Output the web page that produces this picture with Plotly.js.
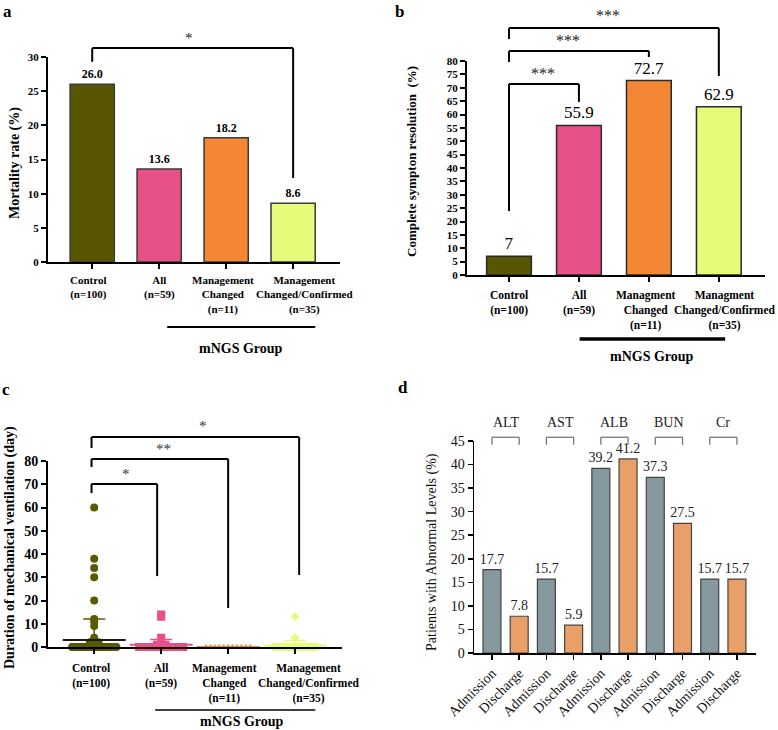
<!DOCTYPE html>
<html><head><meta charset="utf-8">
<script src="https://cdn.plot.ly/plotly-3.0.1.min.js"></script>
<style>html,body{margin:0;padding:0;background:#fff}#chart{width:778px;height:730px}</style>
</head><body><div id="chart"></div>
<script>
// ---------------- data ----------------
const groupLabelsA = ['Control<br>(n=100)', 'All<br>(n=59)', 'Management<br>Changed<br>(n=11)', 'Management<br>Changed/Confirmed<br>(n=35)'];
const groupLabelsB = ['Control<br>(n=100)', 'All<br>(n=59)', 'Managment<br>Changed<br>(n=11)', 'Managment<br>Changed/Confirmed<br>(n=35)'];
const mortality = [26.0, 13.6, 18.2, 8.6];
const resolution = [7, 55.9, 72.7, 62.9];
// mechanical ventilation (days): distinct values and number of patients at each
const ventCtrlDays = [60, 38, 34, 30, 20, 12, 11, 9, 4, 3, 2, 1, 0];
const ventCtrlCount = [1, 1, 1, 1, 1, 1, 1, 1, 1, 1, 2, 2, 86];
const ventAllDays = [14, 13, 4, 2, 1, 0];
const ventAllCount = [1, 1, 1, 1, 2, 53];
const ventMcDays = [0];
const ventMcCount = [11];
const ventMccDays = [13, 4, 0];
const ventMccCount = [1, 1, 33];
const ventMean = [3.0, 1.0, 0, 0.6];
const ventSd = [9.0, 2.2, 0, 2.2];
const labTests = ['ALT', 'AST', 'ALB', 'BUN', 'Cr'];
const timeLabels = ['Admission', 'Discharge'];
const admission = [17.7, 15.7, 39.2, 37.3, 15.7];
const discharge = [7.8, 5.9, 41.2, 27.5, 15.7];

// ---------------- styles ----------------
const W = 778, H = 730;
const serif = '"Liberation Serif", "Times New Roman", serif';
const groupColors = ['#585600', '#e8508a', '#f48734', '#e4fc7a'];
const markerColors = ['#5c5a00', '#e8508a', '#f48734', '#e4fc7a'];
const admColor = '#85989e', disColor = '#e8a068';
const F = (size, bold, color) => ({family: serif, size: size, color: color || '#000', weight: bold ? 'bold' : 'normal'});

function axis(o) {
  return Object.assign({showgrid: false, zeroline: false, showline: true, linecolor: '#000', linewidth: 2,
    ticks: 'outside', ticklen: 5, tickwidth: 2, tickcolor: '#000', fixedrange: true, tickangle: 0}, o);
}

// ---------------- traces ----------------
const traces = [];
// a
traces.push({type: 'bar', x: [0, 1, 2, 3], y: mortality, xaxis: 'x', yaxis: 'y', width: 0.66,
  marker: {color: groupColors, line: {color: '#3a3a3a', width: 1.5}},
  text: mortality.map(v => v.toFixed(1)), textposition: 'outside', cliponaxis: false, constraintext: 'none',
  textfont: F(12, true), hoverinfo: 'skip'});
// b
traces.push({type: 'bar', x: [0, 1, 2, 3], y: resolution, xaxis: 'x2', yaxis: 'y2', width: 0.64,
  marker: {color: groupColors, line: {color: '#2a2a2a', width: 1.5}},
  text: resolution.map(String), textposition: 'outside', cliponaxis: false, constraintext: 'none',
  textfont: F(17, false), hoverinfo: 'skip'});
// c : dot plots
function swarm(center, days, counts, step, maxHalf) {
  const xs = [], ys = [];
  days.forEach((d, i) => {
    const k = counts[i];
    const half = Math.min(maxHalf, (k - 1) * step / 2);
    for (let j = 0; j < k; j++) {
      xs.push(k === 1 ? center : center - half + 2 * half * j / (k - 1));
      ys.push(d);
    }
  });
  return {xs, ys};
}
const ventSets = [[ventCtrlDays, ventCtrlCount, 'circle', 8], [ventAllDays, ventAllCount, 'square', 8],
                  [ventMcDays, ventMcCount, 'triangle-up', 6], [ventMccDays, ventMccCount, 'diamond', 7]];
ventSets.forEach((s, g) => {
  const sw = swarm(g, s[0], s[1], 0.13, 0.33);
  traces.push({type: 'scatter', mode: 'markers', x: sw.xs, y: sw.ys, xaxis: 'x3', yaxis: 'y3', cliponaxis: false,
    marker: {symbol: s[2], size: s[3], color: markerColors[g], line: {width: 0}}, hoverinfo: 'skip'});
});
ventMean.forEach((m, g) => {
  traces.push({type: 'scatter', mode: 'markers', x: [g], y: [m], xaxis: 'x3', yaxis: 'y3', cliponaxis: false,
    marker: {symbol: 'line-ew', size: 45, line: {width: 2, color: g === 0 ? '#1a1a1a' : markerColors[g]}},
    error_y: {type: 'data', symmetric: false, array: [ventSd[g]], arrayminus: [0], color: markerColors[g], thickness: 1.5, width: 11, visible: ventSd[g] > 0},
    hoverinfo: 'skip'});
});
// d
traces.push({type: 'bar', x: labTests.map((_, i) => 2 * i), y: admission, xaxis: 'x4', yaxis: 'y4', width: 0.66,
  marker: {color: admColor, line: {color: '#444', width: 1.2}},
  text: admission.map(v => v.toFixed(1)), textposition: 'outside', cliponaxis: false, constraintext: 'none',
  textfont: F(14, false, '#222'), hoverinfo: 'skip'});
traces.push({type: 'bar', x: labTests.map((_, i) => 2 * i + 1), y: discharge, xaxis: 'x4', yaxis: 'y4', width: 0.66,
  marker: {color: disColor, line: {color: '#444', width: 1.2}},
  text: discharge.map(v => v.toFixed(1)), textposition: 'outside', cliponaxis: false, constraintext: 'none',
  textfont: F(14, false, '#222'), hoverinfo: 'skip'});

// ---------------- shapes & annotations ----------------
const shapes = [], ann = [];
function seg(ax, ymax, x0, y0, x1, y1, color, width) {
  shapes.push({type: 'line', xref: 'x' + ax, yref: 'y' + ax + ' domain', x0: x0, x1: x1,
    y0: y0 / ymax, y1: y1 / ymax, line: {color: color, width: width}});
}
function bracket(ax, ymax, x0, x1, yL, yTop, yR, color, width) {
  seg(ax, ymax, x0, yL, x0, yTop, color, width);
  seg(ax, ymax, x0, yTop, x1, yTop, color, width);
  seg(ax, ymax, x1, yTop, x1, yR, color, width);
}
function note(ax, ymax, x, y, text, font, anchorY) {
  ann.push({xref: 'x' + ax, yref: 'y' + ax + ' domain', x: x, y: y / ymax, text: text, showarrow: false,
    font: font, xanchor: 'center', yanchor: anchorY || 'bottom'});
}
function paperText(px, py, text, font, angle, xa, ya) {
  ann.push({xref: 'paper', yref: 'paper', x: px / W, y: 1 - py / H, text: text, showarrow: false, font: font,
    textangle: angle || 0, xanchor: xa || 'center', yanchor: ya || 'middle'});
}
// category labels under the axis (placed like the original, slightly off-centre)
function catLabels(ax, labels, shiftPx, pxPerUnit, topPx, domPx, font) {
  labels.forEach((t, i) => {
    ann.push({xref: 'x' + ax, yref: 'y' + ax + ' domain', x: i + shiftPx[i] / pxPerUnit, y: -topPx / domPx,
      text: t, showarrow: false, font: font, align: 'center', xanchor: 'center', yanchor: 'top'});
  });
}
// a
bracket('', 30, 0, 3, 29.3, 31.3, 12.3, '#000', 2);
note('', 30, 1.45, 31.3, '*', F(15, false, '#222'));
seg('', 30, 1.12, -9.5, 3.33, -9.5, '#000', 2);
note('', 30, 2.22, -12.6, 'mNGS Group', F(14, true), 'middle');
catLabels('', groupLabelsA, [-3.5, 0, -3, 11], 67, 10, 205, F(11, true));
// b
bracket('2', 80, 0, 1, 23.9, 71.4, 64.7, '#000', 2);
bracket('2', 80, 0, 2, 79.6, 83.7, 81.5, '#000', 2);
bracket('2', 80, 0, 3, 88.2, 92.3, 74.4, '#000', 2);
note('2', 80, 0.49, 71.4, '***', F(16, false, '#222'));
note('2', 80, 0.85, 83.7, '***', F(16, false, '#222'));
note('2', 80, 1.42, 93.0, '***', F(16, false, '#222'));
seg('2', 80, 1.01, -23.9, 3.09, -23.9, '#000', 3.5);
note('2', 80, 2.04, -30.6, 'mNGS Group', F(14, true), 'middle');
catLabels('2', groupLabelsB, [0, 0, -3, 6], 70, 12, 214, F(11.5, true));
// c
bracket('3', 80, -0.04, 0.94, 66.2, 70.1, 30.5, '#000', 2);
bracket('3', 80, -0.04, 2.0, 77.4, 80.9, 16.8, '#000', 2);
bracket('3', 80, -0.04, 3.06, 85.6, 90.3, 31.0, '#000', 2);
note('3', 80, 0.48, 70.1, '*', F(15, false, '#333'));
note('3', 80, 1.03, 80.9, '**', F(15, false, '#333'));
note('3', 80, 1.63, 90.8, '*', F(15, false, '#333'));
seg('3', 80, 0.91, -27.1, 3.30, -27.1, '#000', 1.5);
note('3', 80, 2.21, -32.2, 'mNGS Group', F(14, true), 'middle');
catLabels('3', groupLabelsA, [-3.5, 0, -4, 14], 67, 12.5, 186, F(11.5, true));
// d
labTests.forEach((t, i) => {
  bracket('4', 45, 2 * i, 2 * i + 1, 44.2, 45.8, 44.2, '#777', 1.3);
  note('4', 45, 2 * i + 0.5, 49.0, t, F(14, false, '#222'), 'middle');
});
// axis titles and panel letters
paperText(15, 163, 'Mortality rate (%)', F(14, true), -90);
paperText(412, 162, 'Complete sympton resolution \u00a0(%)', F(13, true), -90);
paperText(10, 548, 'Duration of mechanical ventilation (day)', F(14, true), -90);
paperText(432, 552, 'Patients with Abnormal Levels (%)', F(14, false, '#111'), -90);
paperText(1, 0, 'a', F(17, true), 0, 'left', 'top');
paperText(393, 0, 'b', F(17, true), 0, 'left', 'top');
paperText(0, 378, 'c', F(17, true), 0, 'left', 'top');
paperText(396, 376, 'd', F(17, true), 0, 'left', 'top');

// ---------------- layout ----------------
const catAxis = {tickmode: 'array', tickvals: [0, 1, 2, 3], showticklabels: false};
const layout = {
  width: W, height: H, margin: {l: 0, r: 0, t: 0, b: 0}, showlegend: false,
  paper_bgcolor: '#fff', plot_bgcolor: 'rgba(0,0,0,0)', font: {family: serif, color: '#000'},
  xaxis: axis(Object.assign({domain: [48 / W, 340 / W], range: [-0.66, 3.70], anchor: 'y'}, catAxis)),
  yaxis: axis({domain: [1 - 262 / H, 1 - 57 / H], range: [0, 30], anchor: 'x', tick0: 0, dtick: 5, tickfont: F(11, true)}),
  xaxis2: axis(Object.assign({domain: [467 / W, 765 / W], range: [-0.6, 3.66], anchor: 'y2'}, catAxis)),
  yaxis2: axis({domain: [1 - 275 / H, 1 - 61 / H], range: [0, 80], anchor: 'x2', tick0: 0, dtick: 5, tickfont: F(11, true)}),
  xaxis3: axis(Object.assign({domain: [48 / W, 342 / W], range: [-0.69, 3.70], anchor: 'y3'}, catAxis)),
  yaxis3: axis({domain: [1 - 647 / H, 1 - 461 / H], range: [0, 80], anchor: 'x3', tick0: 0, dtick: 10, tickfont: F(14, true)}),
  xaxis4: axis({domain: [474 / W, 756 / W], range: [-0.66, 9.7], anchor: 'y4', tickmode: 'array',
    tickvals: labTests.flatMap((_, i) => [2 * i, 2 * i + 1]), ticktext: labTests.flatMap(() => timeLabels),
    tickangle: -45, tickfont: F(14, false, '#111'), linewidth: 1.5, tickwidth: 1.5}),
  yaxis4: axis({domain: [1 - 653 / H, 1 - 441 / H], range: [0, 45], anchor: 'x4', tick0: 0, dtick: 5, tickfont: F(14, false, '#111'), linewidth: 1.5, tickwidth: 1.5}),
  shapes: shapes, annotations: ann
};
Plotly.newPlot('chart', traces, layout, {staticPlot: true, displayModeBar: false});
</script></body></html>
